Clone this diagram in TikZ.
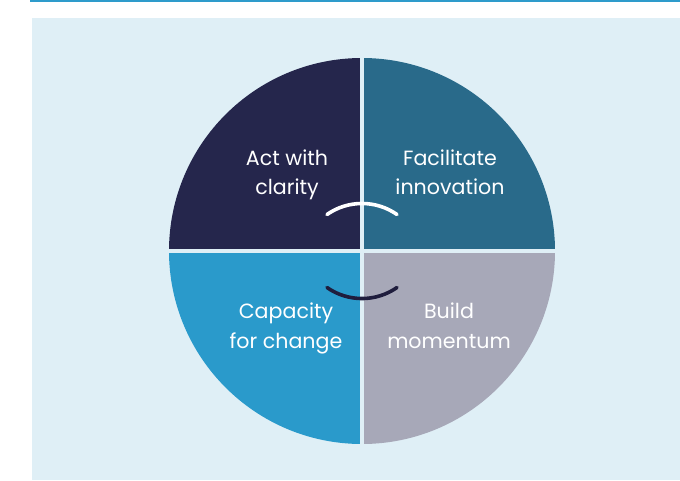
\documentclass[tikz,border=0pt]{standalone}
\usepackage{fontspec}
\setmainfont{Poppins}
\definecolor{topline}{HTML}{2E9BCB}
\definecolor{panel}{HTML}{DFEFF6}
\definecolor{qnavy}{HTML}{25264C}
\definecolor{qteal}{HTML}{296A8A}
\definecolor{qblue}{HTML}{2A9ACB}
\definecolor{qgrey}{HTML}{A7A8B8}
\definecolor{arcdark}{HTML}{1F1D3D}
\tikzset{
  quadlabel/.style={text=white, align=center, inner sep=0pt,
    font=\fontsize{20.6}{29.5}\selectfont},
  smile/.style={line width=3.6pt, line cap=round}
}
\begin{document}
\begin{tikzpicture}[x=1pt,y=-1pt]
  \useasboundingbox (0,0) rectangle (680,480);
  % header rule and background panel
  \fill[topline] (30,0) rectangle (680,2);
  \fill[panel] (32,18) rectangle (680,480);
  % four quadrants of the disc
  \coordinate (c) at (362,251);
  \fill[qnavy] (c) -- (169,251) arc[start angle=180, end angle=270, radius=193] -- cycle;
  \fill[qteal] (c) -- (362,58) arc[start angle=270, end angle=360, radius=193] -- cycle;
  \fill[qgrey] (c) -- (555,251) arc[start angle=0, end angle=90, radius=193] -- cycle;
  \fill[qblue] (c) -- (362,444) arc[start angle=90, end angle=180, radius=193] -- cycle;
  % gaps between the quadrants
  \draw[panel, line width=4pt] (362,50) -- (362,452);
  \draw[panel, line width=4pt] (160,251) -- (564,251);
  % the two arcs in the middle
  \draw[smile, white] (327,214.5) arc[start angle=235, end angle=305, radius=61];
  \draw[smile, arcdark] (327,287.5) arc[start angle=125, end angle=55, radius=61];
  % labels
  \node[quadlabel] (clarity) at (287,174.2) {\strut Act with\\\strut clarity};
  \node[quadlabel] (innovation) at (450,174.2) {\strut Facilitate\\\strut innovation};
  \node[quadlabel] (change) at (286,327.8) {\strut Capacity\\\strut for change};
  \node[quadlabel] (momentum) at (449,327.8) {\strut Build\\\strut momentum};
\end{tikzpicture}
\end{document}
